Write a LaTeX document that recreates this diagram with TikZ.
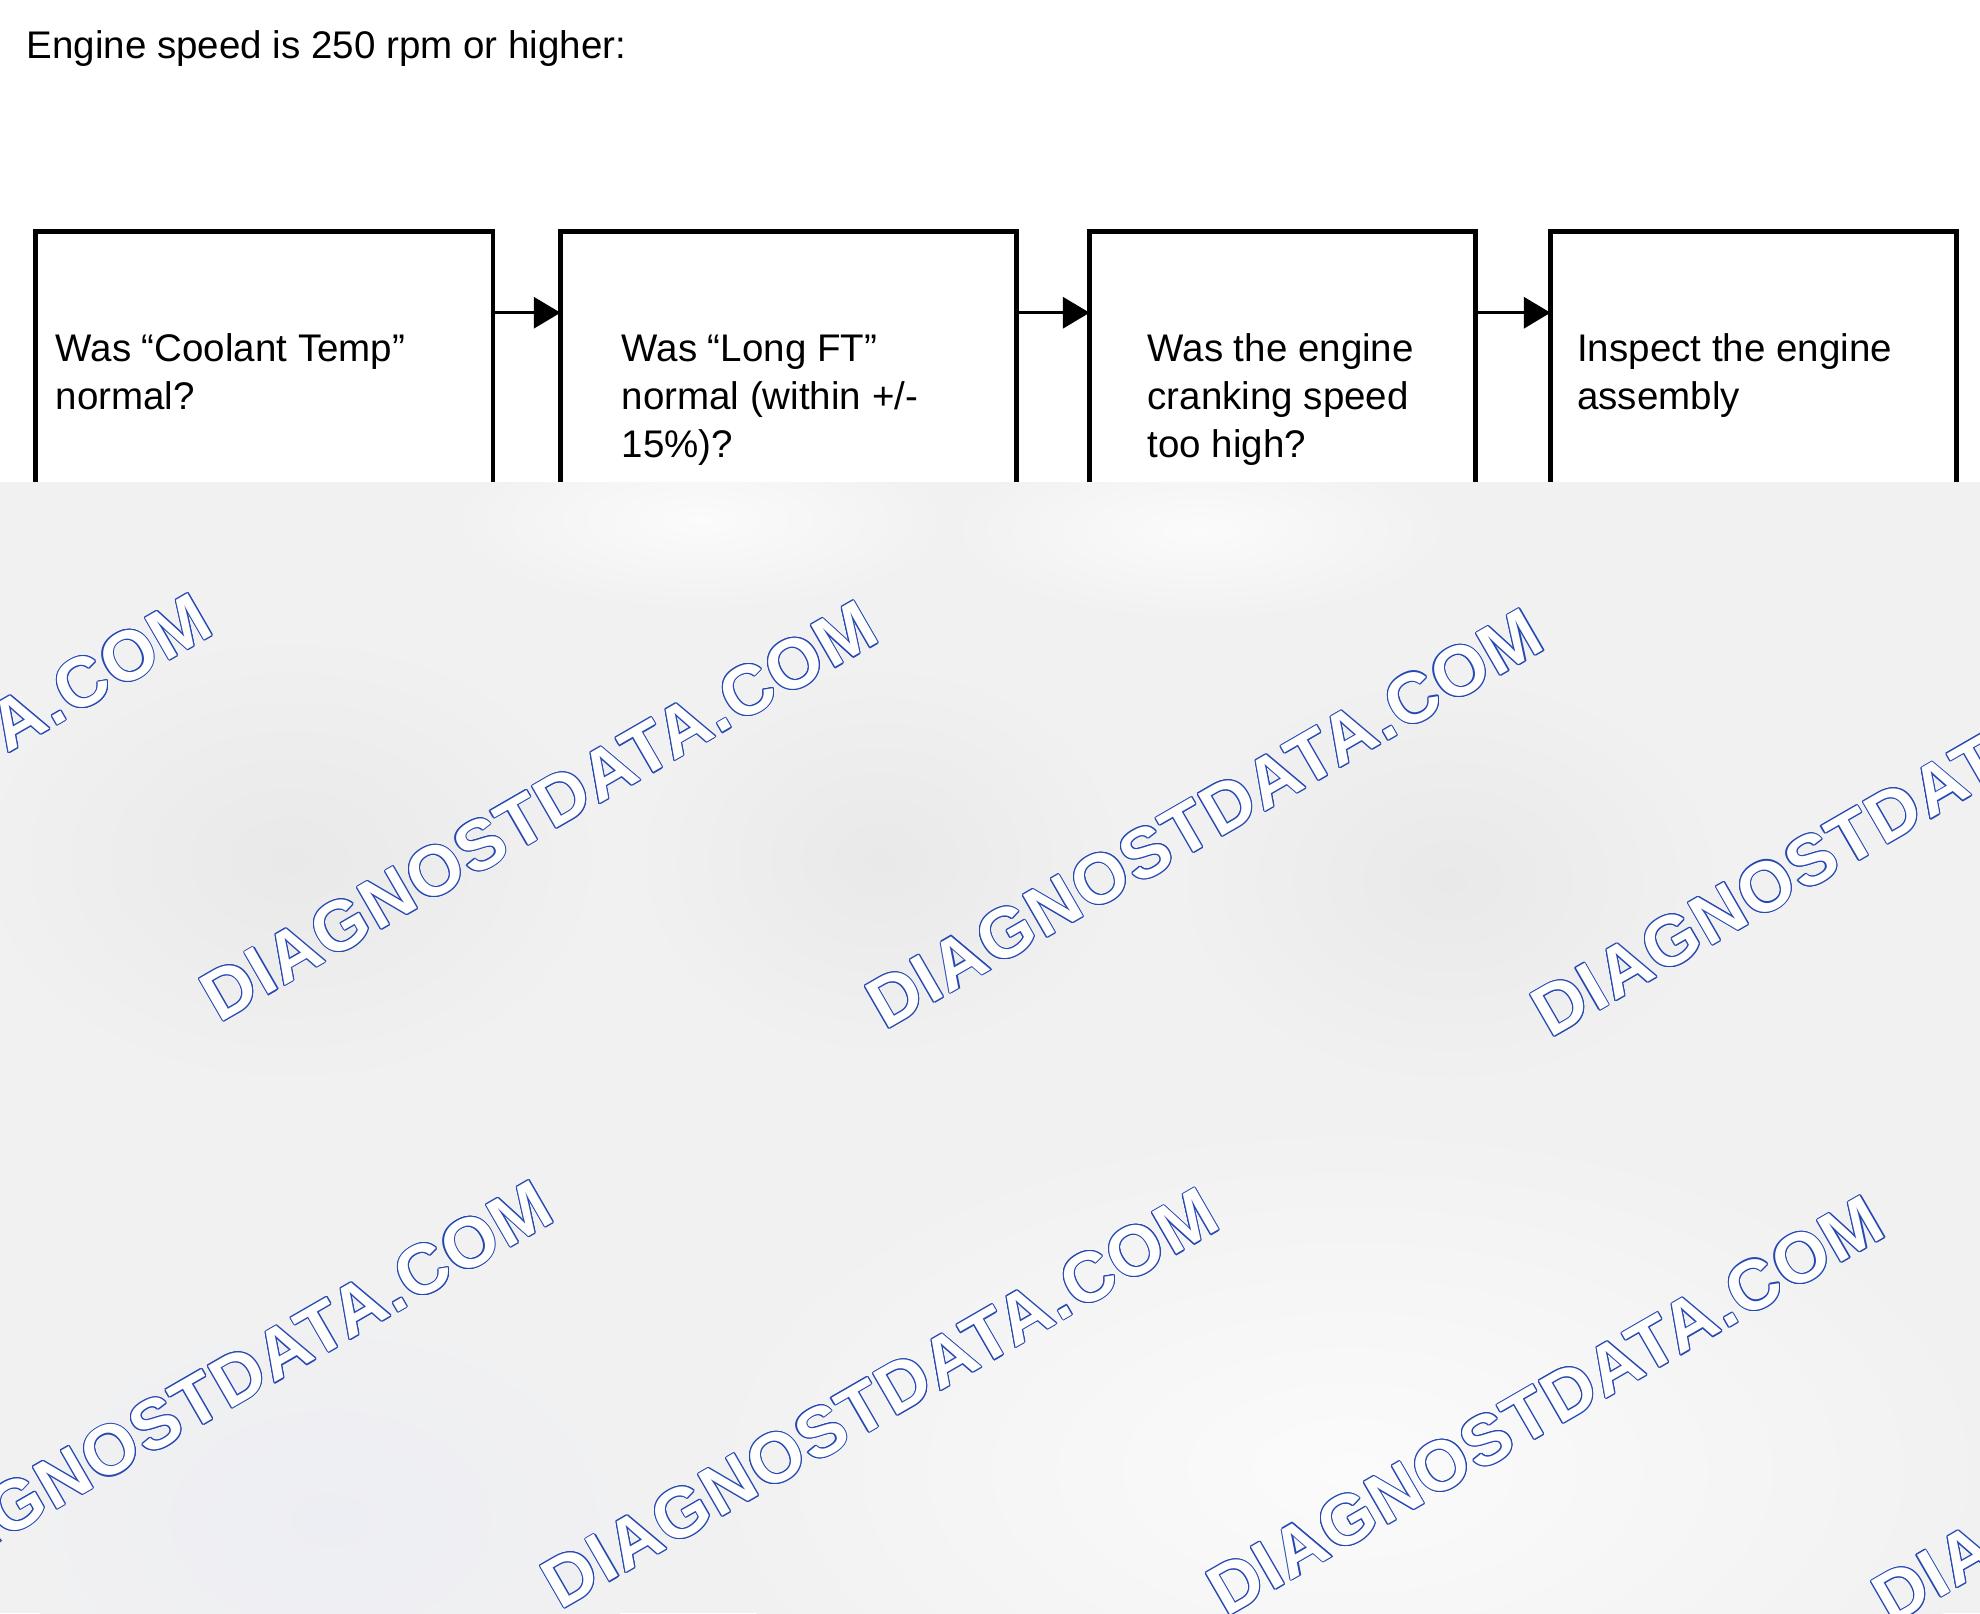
\documentclass[tikz,border=0pt]{standalone}
\usepackage{fontspec}
\setmainfont{Liberation Sans}
\newfontfamily\wmfont[LetterSpace=2.4]{Liberation Sans}
\usetikzlibrary{arrows.meta,positioning}

\definecolor{fogbase}{RGB}{241,241,242}
\definecolor{fogdark}{RGB}{233,233,234}
\definecolor{foglight}{RGB}{251,251,252}
\definecolor{fogblue}{RGB}{237,238,243}
\definecolor{wmblue}{RGB}{38,72,178}

\begin{document}
\begin{tikzpicture}[x=0.01cm,y=-0.01cm]
    \tikzset{QBox/.style = {%
        draw, rectangle, line width=1.4pt, anchor=north west,
        minimum height=3.3cm, inner sep=0pt, outer sep=0pt},
      QText/.style = {anchor=base west, inner sep=0pt, align=left,
        font=\fontsize{10.95}{13.6}\selectfont},
      Flow/.style = {line width=1pt, -{Triangle[length=7.6pt,width=8.8pt]}},
      WMark/.style = {anchor=base west, inner sep=0pt, rotate=30,
        font=\wmfont\bfseries\fontsize{20}{24}\selectfont}}
    \useasboundingbox (0,0) rectangle (1980,1613);
    \node[QText] (title) at (26,58.3) {Engine speed is 250 rpm or higher:};
    % question boxes
    \node[QBox, minimum width=4.575cm] (b1) at (35.2,231.7) {};
    \node[QBox, minimum width=4.555cm] (b2) at (560.5,231.7) {};
    \node[QBox, minimum width=3.854cm] (b3) at (1089.6,231.7) {};
    \node[QBox, minimum width=4.053cm] (b4) at (1550.5,231.7) {};
    % texts sit on the baseline of their last line
    \node[QText] (t1) at (55,409.5) {Was “Coolant Temp”\\normal?};
    \node[QText] (t2) at (621,457.3) {Was “Long FT”\\normal (within +/-\\15\%)?};
    \node[QText] (t3) at (1147,457.3) {Was the engine\\cranking speed\\too high?};
    \node[QText] (t4) at (1576.5,409.5) {Inspect the engine\\assembly};
    \draw[Flow] ([yshift=-0.81cm]b1.north east) -- ([yshift=-0.81cm]b2.north west);
    \draw[Flow] ([yshift=-0.81cm]b2.north east) -- ([yshift=-0.81cm]b3.north west);
    \draw[Flow] ([yshift=-0.81cm]b3.north east) -- ([yshift=-0.81cm]b4.north west);
    % grey overlay
    \fill[fogbase] (0,482.5) rectangle (1980,1613);
    \begin{scope}
      \clip (0,482.5) rectangle (1980,1613);
      \shade[inner color=fogdark, outer color=fogbase] (290,860) ellipse (3.2cm and 2.3cm);
      \shade[inner color=fogdark, outer color=fogbase] (880,860) ellipse (2.5cm and 2cm);
      \shade[inner color=fogdark, outer color=fogbase] (1450,880) ellipse (2.8cm and 2.1cm);
      \shade[inner color=fogblue, outer color=fogbase] (330,1520) ellipse (3.2cm and 2.2cm);
      \shade[inner color=foglight, outer color=fogbase] (1350,1470) ellipse (6.5cm and 3.5cm);
      \shade[inner color=foglight, outer color=fogbase] (700,520) ellipse (2.5cm and 0.9cm);
      \shade[inner color=foglight, outer color=fogbase] (1200,530) ellipse (2.5cm and 0.9cm);
      % watermark
      \foreach \wx/\wy [count=\k] in {-446.5/1015.8, 219/1023.5, 884.5/1031.2,
          1550/1038.9, -105.5/1602.8, 560/1610.5, 1225.5/1618.2, 1891/1625.9}{
        \foreach \a in {0,30,...,330}
          \node[WMark, text=wmblue] (wm\k-\a) at ([shift={(\a:1.1)}]\wx,\wy) {DIAGNOSTDATA.COM};
        \node[WMark, text=white] (wm\k) at (\wx,\wy) {DIAGNOSTDATA.COM};
      }
    \end{scope}
\end{tikzpicture}
\end{document}
